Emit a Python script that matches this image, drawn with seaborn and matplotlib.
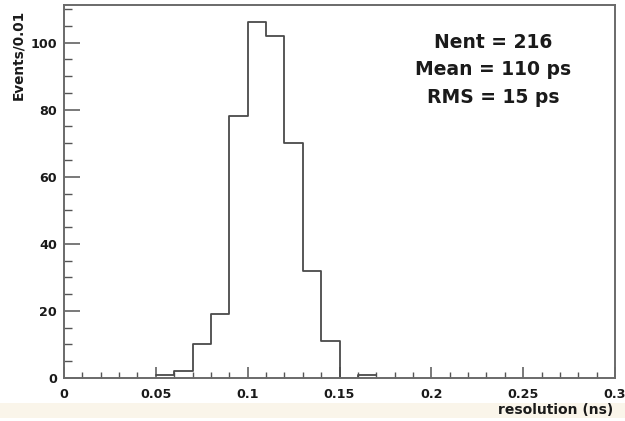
import numpy as np
import pandas as pd
import matplotlib
matplotlib.use("Agg")
import matplotlib.pyplot as plt
from matplotlib.ticker import MultipleLocator, FixedLocator, FixedFormatter
from matplotlib.patches import Rectangle
import seaborn as sns

# Histogram contents: bin edges (ns) and entries per 0.01 ns bin
bin_edges = [0.05, 0.06, 0.07, 0.08, 0.09, 0.10, 0.11, 0.12, 0.13, 0.14, 0.15, 0.16, 0.17]
bin_counts = [1, 2, 10, 19, 78, 106, 102, 70, 32, 11, 0, 1]

x_ticks = [0, 0.05, 0.1, 0.15, 0.2, 0.25, 0.3]
x_tick_labels = ["0", "0.05", "0.1", "0.15", "0.2", "0.25", "0.3"]
y_ticks = [0, 20, 40, 60, 80, 100]
y_tick_labels = ["0", "20", "40", "60", "80", "100"]

stats_lines = ["Nent = 216", "Mean = 110 ps", "RMS = 15 ps"]

sns.set_theme(style="white")
plt.rcParams["font.family"] = ["DejaVu Sans"]

centers = [(a + b) / 2 for a, b in zip(bin_edges[:-1], bin_edges[1:])]
df = pd.DataFrame({"resolution": centers, "entries": bin_counts})

fig = plt.figure(figsize=(6.25, 4.21), dpi=100)
ax = fig.add_axes([0.1024, 0.1021, 0.8816, 0.8859])

sns.histplot(data=df, x="resolution", weights="entries", bins=bin_edges,
             element="step", fill=False, color="#4a4a4a", linewidth=1.3, ax=ax)

ax.set_xlim(0, 0.3)
ax.set_ylim(0, 111.2)

for s in ax.spines.values():
    s.set_color("#6a6a6a")
    s.set_linewidth(1.4)

ax.xaxis.set_major_locator(FixedLocator(x_ticks))
ax.xaxis.set_major_formatter(FixedFormatter(x_tick_labels))
ax.xaxis.set_minor_locator(MultipleLocator(0.01))
ax.yaxis.set_major_locator(FixedLocator(y_ticks))
ax.yaxis.set_major_formatter(FixedFormatter(y_tick_labels))
ax.yaxis.set_minor_locator(MultipleLocator(5))

ax.tick_params(axis="both", which="both", direction="in", colors="#555555",
               labelcolor="#1a1a1a", bottom=True, left=True, top=False, right=False)
ax.tick_params(axis="y", which="major", length=11.5, width=1.1, pad=5)
ax.tick_params(axis="y", which="minor", length=6, width=1.0)
ax.tick_params(axis="x", which="major", length=8, width=1.1, pad=7)
ax.tick_params(axis="x", which="minor", length=4, width=1.0)
for lab in ax.get_xticklabels() + ax.get_yticklabels():
    lab.set_fontsize(9.2)
    lab.set_fontweight("bold")

ax.set_xlabel("")
ax.set_ylabel("")
fig.text(0.029, 0.978, "Events/0.01", rotation=90, ha="center", va="top",
         fontsize=9.8, fontweight="bold", color="#1a1a1a")
fig.text(0.981, 0.026, "resolution (ns)", ha="right", va="center",
         fontsize=10, fontweight="bold", color="#1a1a1a")

stats_y = [0.900, 0.826, 0.753]
for line, yy in zip(stats_lines, stats_y):
    ax.text(0.779, yy, line, transform=ax.transAxes,
            ha="center", va="center", fontsize=13.5, fontweight="bold",
            color="#1a1a1a")

# faint scan band along the bottom edge
fig.patches.append(Rectangle((0.0, 0.007), 1.0, 0.036, transform=fig.transFigure,
                             facecolor="#f6ead2", edgecolor="none", alpha=0.45,
                             zorder=0))

fig.savefig("out.png", dpi=100)
